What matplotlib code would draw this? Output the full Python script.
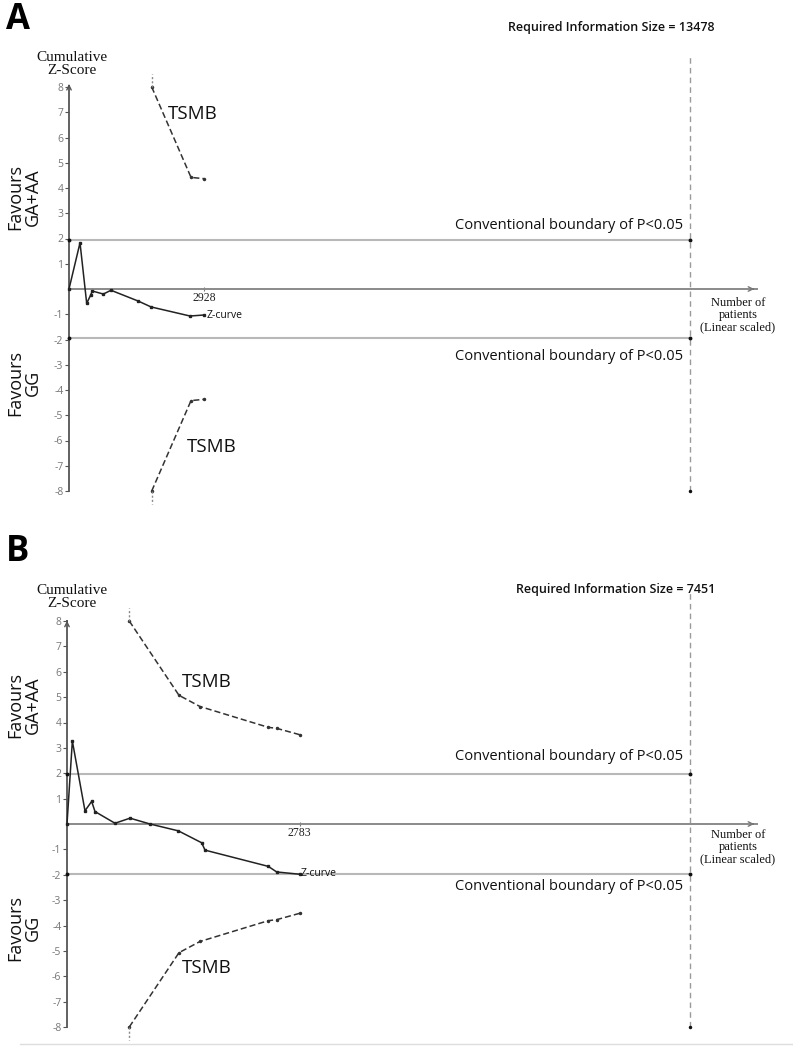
import matplotlib
matplotlib.use("Agg")
import matplotlib.pyplot as plt

# ============ 数据 ============
# 图A
A_Z_N = [0, 239, 384, 470, 506, 745, 911, 1505, 1780, 2626, 2928]
A_Z_VAL = [0, 1.83, -0.57, -0.24, -0.08, -0.20, -0.05, -0.48, -0.71, -1.07, -1.03]
A_TSMB_N = [1795, 2648, 2928]
A_TSMB_VAL = [8.0, 4.42, 4.37]
A_RIS = 13478
A_XMAX = 14930
A_TICK = 2928

# 图B
B_Z_N = [0, 64, 215, 295, 335, 574, 754, 993, 1332, 1611, 1651, 2408, 2508, 2783]
B_Z_VAL = [0, 3.27, 0.52, 0.89, 0.49, 0.03, 0.23, 0.0, -0.27, -0.74, -1.03, -1.67, -1.89, -1.98]
B_TSMB_N = [745, 1340, 1591, 2408, 2508, 2783]
B_TSMB_VAL = [8.0, 5.07, 4.63, 3.81, 3.77, 3.52]
B_RIS = 7451
B_XMAX = 8254
B_TICK = 2783

BOUNDARY = 1.96
Y_TICKS = [v for v in range(-8, 9) if v != 0]

W, H = 793, 1049
SANS = ["Open Sans", "DejaVu Sans"]
SERIF = ["Liberation Serif", "DejaVu Serif"]


def px(x, y):
    """像素坐标 -> figure 坐标"""
    return x / W, 1 - y / H


def draw_panel(fig, box, z_n, z_val, tsmb_n, tsmb_val, ris, xmax, tick, texts):
    left, top, right, bottom = box
    ax = fig.add_axes([left / W, 1 - bottom / H, (right - left) / W, (bottom - top) / H])
    ax.set_xlim(0, xmax)
    ax.set_ylim(-8, 8)
    ax.patch.set_alpha(0)

    for s in ["top", "right"]:
        ax.spines[s].set_visible(False)
    ax.spines["left"].set_bounds(-8, 8)
    ax.spines["left"].set_color("#555555")
    ax.spines["left"].set_linewidth(1.3)
    ax.spines["bottom"].set_position(("data", 0))
    ax.spines["bottom"].set_color("#8a8a8a")
    ax.spines["bottom"].set_linewidth(1.4)

    ax.set_yticks(Y_TICKS)
    ax.set_yticklabels([str(v) for v in Y_TICKS], family=SANS, fontsize=7.5, color="#777777")
    ax.tick_params(axis="y", length=3, width=0.8, color="#555555", pad=1)
    ax.set_xticks([tick])
    ax.set_xticklabels([str(tick)], family=SERIF, fontsize=8.5, color="#222222")
    ax.tick_params(axis="x", length=3, width=0.8, color="#777777", direction="inout", pad=1)

    # 坐标轴箭头
    ax.annotate("", xy=(xmax, 0), xytext=(xmax * 0.99, 0),
                arrowprops=dict(arrowstyle="->", color="#777777", lw=1.0, mutation_scale=8),
                annotation_clip=False)
    ax.annotate("", xy=(0, 8.12), xytext=(0, 7.9),
                arrowprops=dict(arrowstyle="->", color="#555555", lw=1.0, mutation_scale=8),
                annotation_clip=False)

    # 常规界值线
    for b in (BOUNDARY, -BOUNDARY):
        ax.plot([0, ris], [b, b], color="#b8b8b8", lw=1.5, zorder=1)
        ax.plot([0, ris], [b, b], "o", color="#111111", ms=1.8, zorder=3, clip_on=False)

    # 所需信息量
    ax.plot([ris, ris], [-8, 9.2], color="#9a9a9a", lw=1.0, ls=(0, (4, 3)), clip_on=False, zorder=1)
    ax.plot([ris], [-8], "o", color="#111111", ms=1.5, clip_on=False)

    # TSMB 界值
    for sign in (1, -1):
        vals = [sign * v for v in tsmb_val]
        ax.plot(tsmb_n, vals, color="#333333", lw=1.1, ls=(0, (4, 2)),
                marker="o", ms=1.5, clip_on=False, zorder=2)
        ax.plot([tsmb_n[0], tsmb_n[0]], [sign * 8, sign * 8.5], color="#888888",
                lw=1.0, ls=(0, (1.5, 1.5)), clip_on=False)

    # Z 曲线
    ax.plot(z_n, z_val, color="#222222", lw=1.1, marker="s", ms=1.5, zorder=4, clip_on=False)

    # 文字
    for (x, y, s, kw) in texts:
        fig.text(*px(x, y), s, **kw)
    return ax


def panel_texts(dy, ris_label, tsmb_up, tsmb_dn, zc, fav_up, fav_dn, conv_up, conv_dn, ris_y, nop_y, cum_y, xlab):
    lab = dict(family=SANS, fontsize=10.5, color="#111111", ha="right", va="center")
    tsmb = dict(family=SANS, fontsize=13.5, color="#111111", ha="center", va="center")
    fav = dict(family=SANS, fontsize=13, color="#111111", ha="center", va="center",
               rotation=90, multialignment="center", linespacing=0.95)
    ser = dict(family=SERIF, fontsize=9, color="#111111", ha="center", va="center", linespacing=1.0)
    return [
        (6, dy, xlab, dict(family=SANS, fontsize=25, fontweight="bold", ha="left", va="center")),
        (72, cum_y, "Cumulative\nZ-Score", dict(family=SERIF, fontsize=11, ha="center", va="center",
                                                linespacing=0.95, color="#111111")),
        (715, ris_y, ris_label, dict(family=SANS, fontsize=9, fontweight="semibold",
                                     ha="right", va="center", color="#111111")),
        (683, conv_up, "Conventional boundary of P<0.05", lab),
        (683, conv_dn, "Conventional boundary of P<0.05", lab),
        (tsmb_up[0], tsmb_up[1], "TSMB", tsmb),
        (tsmb_dn[0], tsmb_dn[1], "TSMB", tsmb),
        (zc[0], zc[1], "Z-curve", dict(family=SANS, fontsize=7.5, ha="left", va="center", color="#111111")),
        (24, fav_up, "Favours\nGA+AA", fav),
        (24, fav_dn, "Favours\nGG", fav),
        (738, nop_y, "Number of\npatients\n(Linear scaled)", ser),
    ]


fig = plt.figure(figsize=(W / 100, H / 100), dpi=100)

texts_a = panel_texts(20, "Required Information Size = 13478", (193, 114), (212, 447), (207, 316),
                      197, 383, 225, 356, 28, 315, 64, "A")
draw_panel(fig, (69, 87, 757, 491), A_Z_N, A_Z_VAL, A_TSMB_N, A_TSMB_VAL, A_RIS, A_XMAX, A_TICK, texts_a)

texts_b = panel_texts(552, "Required Information Size = 7451", (207, 682), (207, 968), (301, 874),
                      705, 928, 757, 887, 590, 847, 597, "B")
draw_panel(fig, (67, 621, 757, 1027), B_Z_N, B_Z_VAL, B_TSMB_N, B_TSMB_VAL, B_RIS, B_XMAX, B_TICK, texts_b)

# 底部细线
fig.add_artist(plt.Line2D([20 / W, 1], [1 - 1044 / H, 1 - 1044 / H], color="#dddddd", lw=1.0))

fig.savefig("out.png", dpi=100, facecolor="white")
